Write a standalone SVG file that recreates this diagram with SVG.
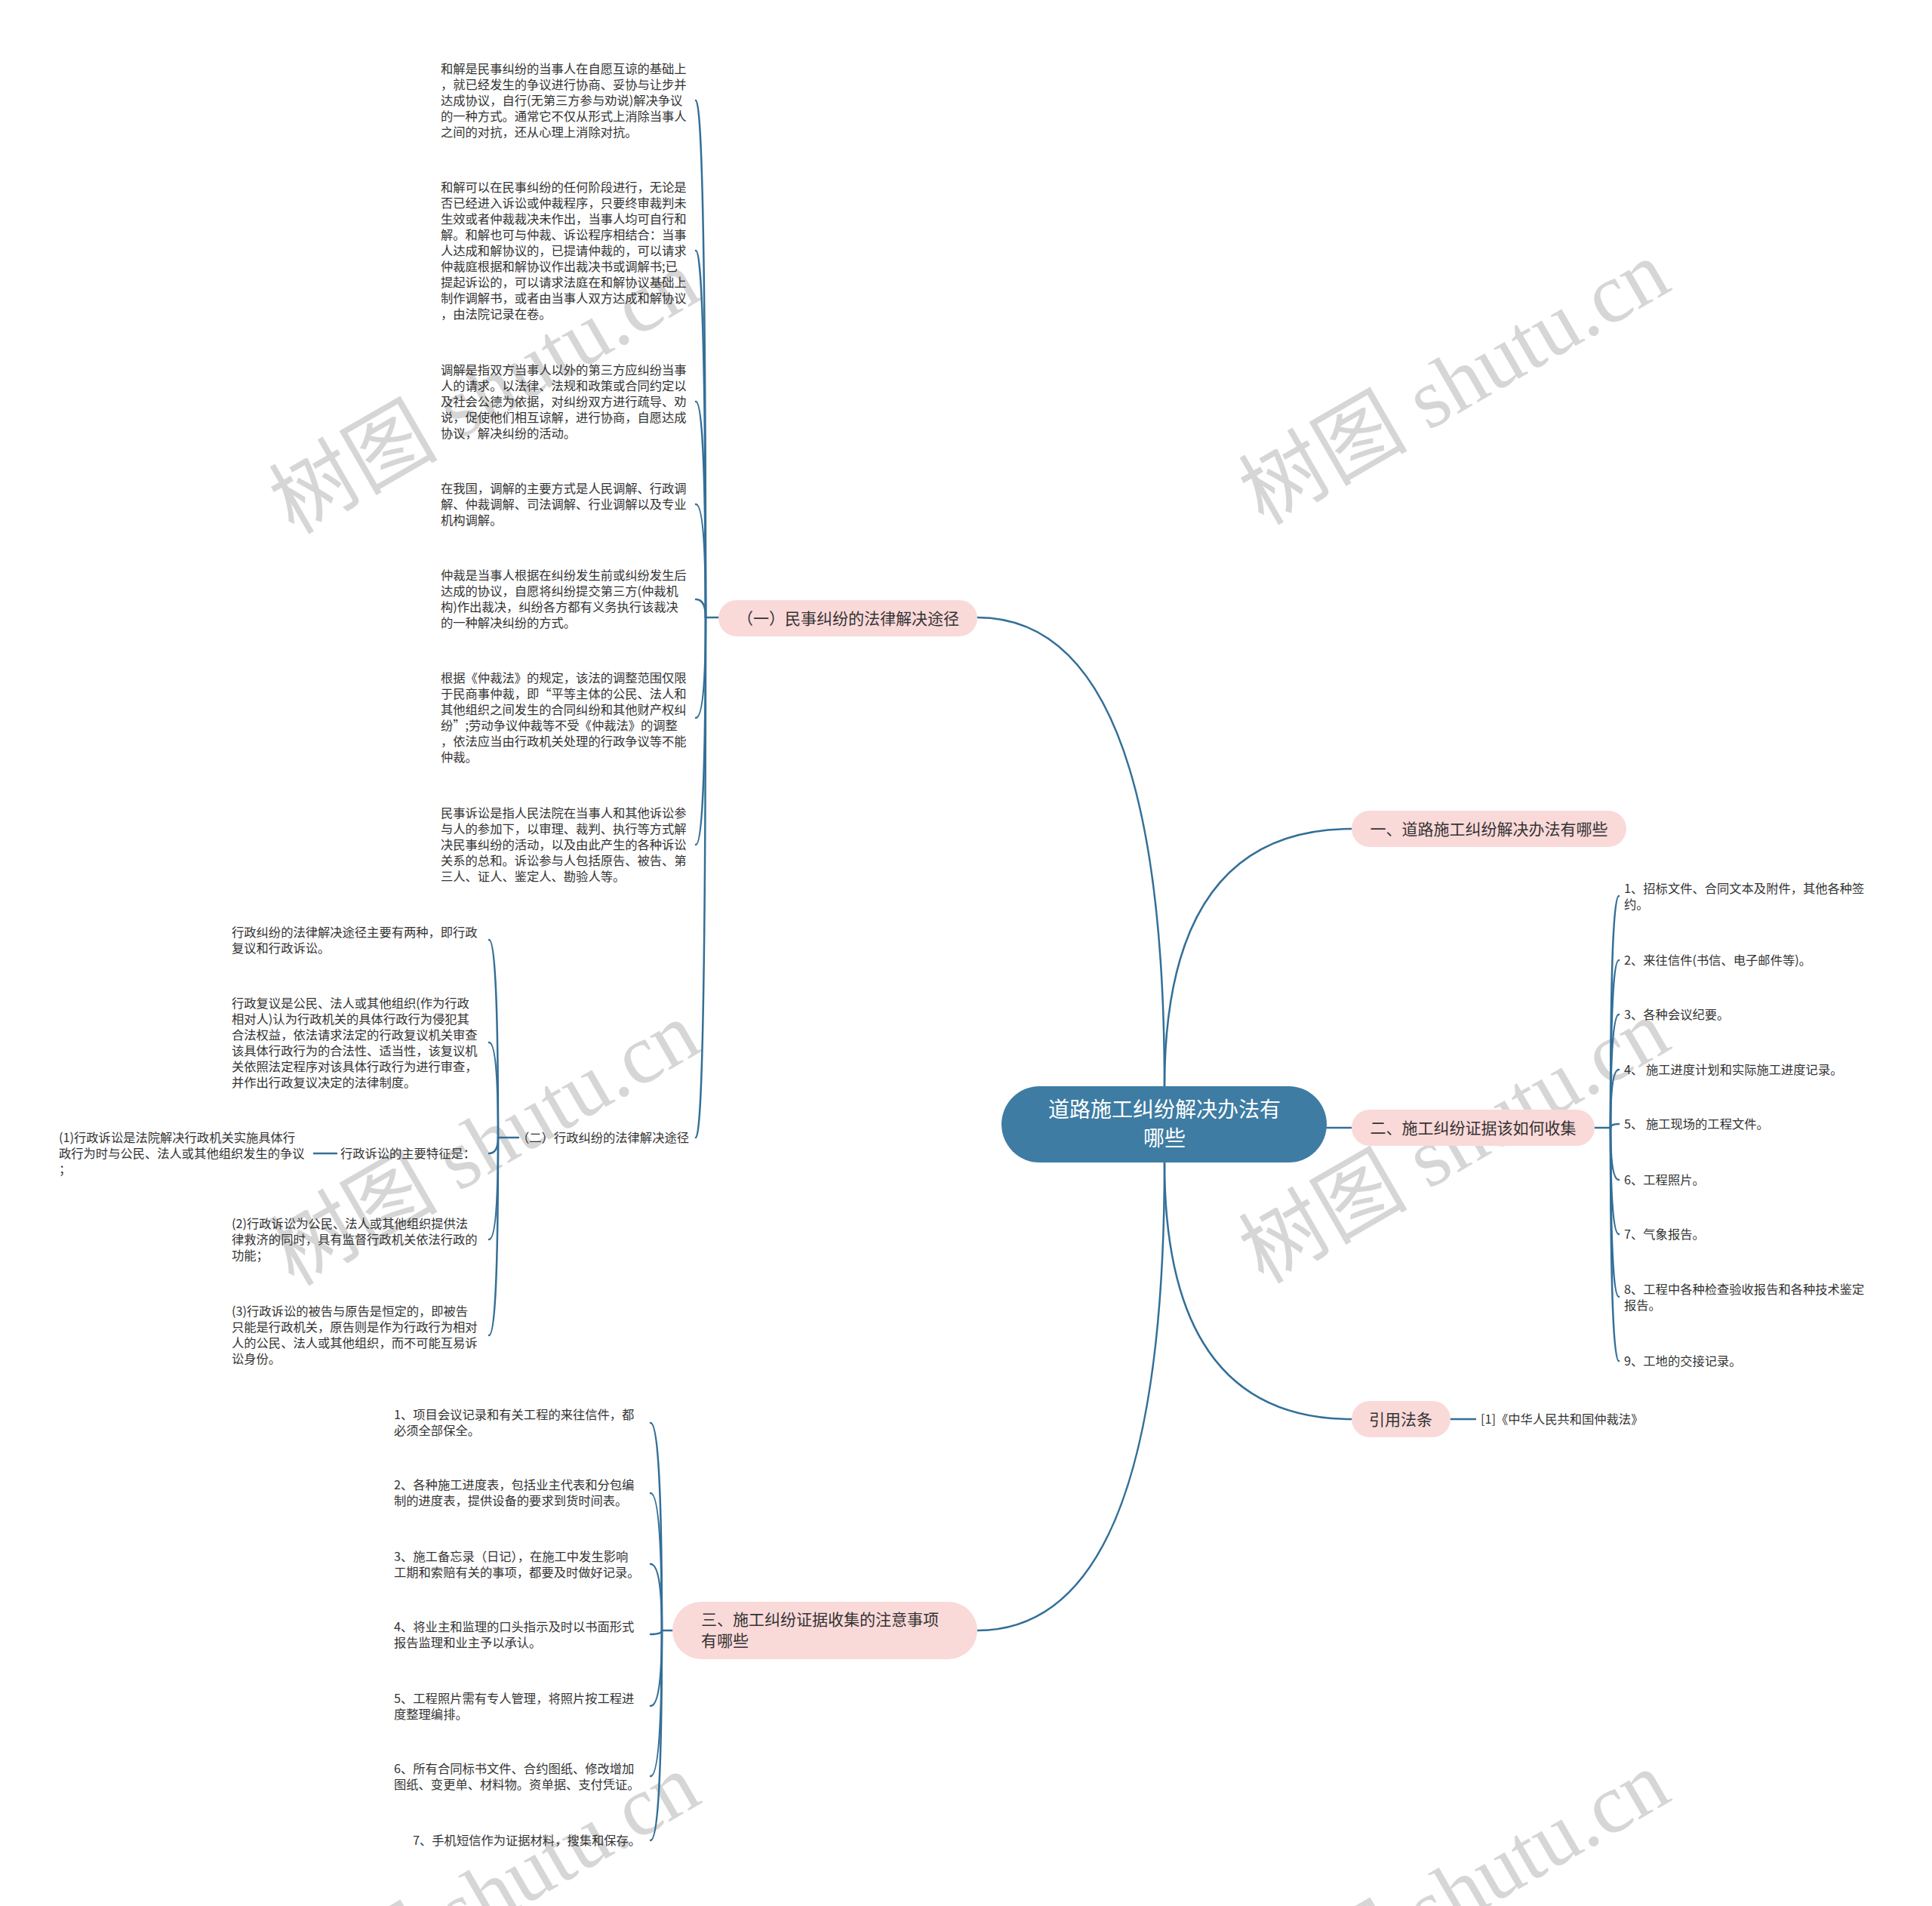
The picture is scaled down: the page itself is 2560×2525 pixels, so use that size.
<svg xmlns="http://www.w3.org/2000/svg" width="2560" height="2525" viewBox="0 0 2560 2525">
<style>
.wm{font-family:"Liberation Serif","Noto Sans CJK SC",serif;font-size:112px;fill:#d6d6d6;text-anchor:middle}
.t{font-family:"Noto Sans CJK SC","Noto Sans",sans-serif;font-size:16.3px;fill:#333}
.b{font-family:"Noto Sans CJK SC","Noto Sans",sans-serif;font-size:21px;fill:#333}
.c{font-family:"Noto Sans CJK SC","Noto Sans",sans-serif;font-size:28px;fill:#fff;text-anchor:middle}
.pk{fill:#fad9d9}
.ln{fill:none;stroke:#336f98;stroke-width:2.5;stroke-linecap:round}
</style>
<rect width="2560" height="2525" fill="#fff"/>
<g id="watermarks">
<text class="wm" transform="translate(642,519) rotate(-30)" y="38">树图 shutu.cn</text>
<text class="wm" transform="translate(1927,507) rotate(-30)" y="38">树图 shutu.cn</text>
<text class="wm" transform="translate(642,1515) rotate(-30)" y="38">树图 shutu.cn</text>
<text class="wm" transform="translate(1927,1512) rotate(-30)" y="38">树图 shutu.cn</text>
<text class="wm" transform="translate(642,2511) rotate(-30)" y="38">树图 shutu.cn</text>
<text class="wm" transform="translate(1927,2508) rotate(-30)" y="38">树图 shutu.cn</text>
</g>
<g id="connectors">
<path class="ln" d="M1543 1440 Q1543 818 1295 818"/>
<path class="ln" d="M1543 1440 Q1543 1098 1791 1098"/>
<path class="ln" d="M1758 1494 L1791 1494"/>
<path class="ln" d="M1543 1540 Q1543 1880 1791 1880"/>
<path class="ln" d="M1543 1540 Q1543 2160 1295 2160"/>
<path class="ln" d="M1922 1880 L1955 1880"/>
<path class="ln" d="M952 818 L935 818"/>
<path class="ln" d="M935 818 Q935 133 922 133"/>
<path class="ln" d="M935 818 Q935 332 922 332"/>
<path class="ln" d="M935 818 Q935 532 922 532"/>
<path class="ln" d="M935 818 Q935 668 922 668"/>
<path class="ln" d="M935 818 Q935 794 922 794"/>
<path class="ln" d="M935 818 Q935 951 922 951"/>
<path class="ln" d="M935 818 Q935 1119 922 1119"/>
<path class="ln" d="M935 818 Q935 1507 922 1507"/>
<path class="ln" d="M687 1507 L660 1507"/>
<path class="ln" d="M660 1507 Q660 1245 648 1245"/>
<path class="ln" d="M660 1507 Q660 1381 648 1381"/>
<path class="ln" d="M660 1507 Q660 1528 648 1528"/>
<path class="ln" d="M660 1507 Q660 1642 648 1642"/>
<path class="ln" d="M660 1507 Q660 1769 648 1769"/>
<path class="ln" d="M446 1528 L416 1528"/>
<path class="ln" d="M2113 1494 L2134 1494"/>
<path class="ln" d="M2134 1494 Q2134 1187 2145 1187"/>
<path class="ln" d="M2134 1494 Q2134 1272 2145 1272"/>
<path class="ln" d="M2134 1494 Q2134 1344 2145 1344"/>
<path class="ln" d="M2134 1494 Q2134 1417 2145 1417"/>
<path class="ln" d="M2134 1494 Q2134 1489 2145 1489"/>
<path class="ln" d="M2134 1494 Q2134 1563 2145 1563"/>
<path class="ln" d="M2134 1494 Q2134 1635 2145 1635"/>
<path class="ln" d="M2134 1494 Q2134 1718 2145 1718"/>
<path class="ln" d="M2134 1494 Q2134 1803 2145 1803"/>
<path class="ln" d="M891 2160 L877 2160"/>
<path class="ln" d="M877 2160 Q877 1885 862 1885"/>
<path class="ln" d="M877 2160 Q877 1978 862 1978"/>
<path class="ln" d="M877 2160 Q877 2072 862 2072"/>
<path class="ln" d="M877 2160 Q877 2165 862 2165"/>
<path class="ln" d="M877 2160 Q877 2260 862 2260"/>
<path class="ln" d="M877 2160 Q877 2353 862 2353"/>
<path class="ln" d="M877 2160 Q877 2438 862 2438"/>
</g>
<g id="center">
<rect x="1327" y="1439" width="431" height="101" rx="50.5" fill="#3e7ca3"/>
<text class="c" x="1543" y="1480">道路施工纠纷解决办法有</text>
<text class="c" x="1543" y="1518">哪些</text>
</g>
<g id="n-civil">
<rect class="pk" x="952" y="795" width="343" height="48" rx="24"/>
<text class="b" x="1124" y="827" text-anchor="middle">（一）民事纠纷的法律解决途径</text>
</g>
<g id="n-one">
<rect class="pk" x="1791" y="1074" width="364" height="48" rx="24"/>
<text class="b" x="1973" y="1106" text-anchor="middle">一、道路施工纠纷解决办法有哪些</text>
</g>
<g id="n-two">
<rect class="pk" x="1791" y="1470" width="322" height="48" rx="24"/>
<text class="b" x="1952" y="1502" text-anchor="middle">二、施工纠纷证据该如何收集</text>
</g>
<g id="n-cite">
<rect class="pk" x="1791" y="1856" width="131" height="48" rx="24"/>
<text class="b" x="1856" y="1888" text-anchor="middle">引用法条</text>
</g>
<g id="n-cite-1">
<text class="t" x="1962" y="1886">[1]《中华人民共和国仲裁法》</text>
</g>
<g id="n-three">
<rect class="pk" x="891" y="2122" width="404" height="76" rx="38"/>
<text class="b" x="929" y="2153">三、施工纠纷证据收集的注意事项</text>
<text class="b" x="929" y="2181">有哪些</text>
</g>
<g id="civil-a">
<text class="t" x="584" y="97">和解是民事纠纷的当事人在自愿互谅的基础上<tspan x="584" dy="21">，就已经发生的争议进行协商、妥协与让步并</tspan><tspan x="584" dy="21">达成协议，自行(无第三方参与劝说)解决争议</tspan><tspan x="584" dy="21">的一种方式。通常它不仅从形式上消除当事人</tspan><tspan x="584" dy="21">之间的对抗，还从心理上消除对抗。</tspan></text>
</g>
<g id="civil-b">
<text class="t" x="584" y="254">和解可以在民事纠纷的任何阶段进行，无论是<tspan x="584" dy="21">否已经进入诉讼或仲裁程序，只要终审裁判未</tspan><tspan x="584" dy="21">生效或者仲裁裁决未作出，当事人均可自行和</tspan><tspan x="584" dy="21">解。和解也可与仲裁、诉讼程序相结合：当事</tspan><tspan x="584" dy="21">人达成和解协议的，已提请仲裁的，可以请求</tspan><tspan x="584" dy="21">仲裁庭根据和解协议作出裁决书或调解书;已</tspan><tspan x="584" dy="21">提起诉讼的，可以请求法庭在和解协议基础上</tspan><tspan x="584" dy="21">制作调解书，或者由当事人双方达成和解协议</tspan><tspan x="584" dy="21">，由法院记录在卷。</tspan></text>
</g>
<g id="civil-c">
<text class="t" x="584" y="496">调解是指双方当事人以外的第三方应纠纷当事<tspan x="584" dy="21">人的请求。以法律、法规和政策或合同约定以</tspan><tspan x="584" dy="21">及社会公德为依据，对纠纷双方进行疏导、劝</tspan><tspan x="584" dy="21">说，促使他们相互谅解，进行协商，自愿达成</tspan><tspan x="584" dy="21">协议，解决纠纷的活动。</tspan></text>
</g>
<g id="civil-d">
<text class="t" x="584" y="653">在我国，调解的主要方式是人民调解、行政调<tspan x="584" dy="21">解、仲裁调解、司法调解、行业调解以及专业</tspan><tspan x="584" dy="21">机构调解。</tspan></text>
</g>
<g id="civil-e">
<text class="t" x="584" y="768">仲裁是当事人根据在纠纷发生前或纠纷发生后<tspan x="584" dy="21">达成的协议，自愿将纠纷提交第三方(仲裁机</tspan><tspan x="584" dy="21">构)作出裁决，纠纷各方都有义务执行该裁决</tspan><tspan x="584" dy="21">的一种解决纠纷的方式。</tspan></text>
</g>
<g id="civil-f">
<text class="t" x="584" y="904">根据《仲裁法》的规定，该法的调整范围仅限<tspan x="584" dy="21">于民商事仲裁，即“平等主体的公民、法人和</tspan><tspan x="584" dy="21">其他组织之间发生的合同纠纷和其他财产权纠</tspan><tspan x="584" dy="21">纷”;劳动争议仲裁等不受《仲裁法》的调整</tspan><tspan x="584" dy="21">，依法应当由行政机关处理的行政争议等不能</tspan><tspan x="584" dy="21">仲裁。</tspan></text>
</g>
<g id="civil-g">
<text class="t" x="584" y="1083">民事诉讼是指人民法院在当事人和其他诉讼参<tspan x="584" dy="21">与人的参加下，以审理、裁判、执行等方式解</tspan><tspan x="584" dy="21">决民事纠纷的活动，以及由此产生的各种诉讼</tspan><tspan x="584" dy="21">关系的总和。诉讼参与人包括原告、被告、第</tspan><tspan x="584" dy="21">三人、证人、鉴定人、勘验人等。</tspan></text>
</g>
<g id="admin">
<text class="t" x="913" y="1513" text-anchor="end">（二）行政纠纷的法律解决途径</text>
</g>
<g id="admin-a">
<text class="t" x="307" y="1241">行政纠纷的法律解决途径主要有两种，即行政<tspan x="307" dy="21">复议和行政诉讼。</tspan></text>
</g>
<g id="admin-b">
<text class="t" x="307" y="1335">行政复议是公民、法人或其他组织(作为行政<tspan x="307" dy="21">相对人)认为行政机关的具体行政行为侵犯其</tspan><tspan x="307" dy="21">合法权益，依法请求法定的行政复议机关审查</tspan><tspan x="307" dy="21">该具体行政行为的合法性、适当性，该复议机</tspan><tspan x="307" dy="21">关依照法定程序对该具体行政行为进行审查，</tspan><tspan x="307" dy="21">并作出行政复议决定的法律制度。</tspan></text>
</g>
<g id="admin-c">
<text class="t" x="630" y="1534" text-anchor="end">行政诉讼的主要特征是：</text>
</g>
<g id="admin-c1">
<text class="t" x="78" y="1513">(1)行政诉讼是法院解决行政机关实施具体行<tspan x="78" dy="21">政行为时与公民、法人或其他组织发生的争议</tspan><tspan x="78" dy="21">；</tspan></text>
</g>
<g id="admin-d">
<text class="t" x="307" y="1627">(2)行政诉讼为公民、法人或其他组织提供法<tspan x="307" dy="21">律救济的同时，具有监督行政机关依法行政的</tspan><tspan x="307" dy="21">功能；</tspan></text>
</g>
<g id="admin-e">
<text class="t" x="307" y="1743">(3)行政诉讼的被告与原告是恒定的，即被告<tspan x="307" dy="21">只能是行政机关，原告则是作为行政行为相对</tspan><tspan x="307" dy="21">人的公民、法人或其他组织，而不可能互易诉</tspan><tspan x="307" dy="21">讼身份。</tspan></text>
</g>
<g id="two-1"><text class="t" x="2152" y="1183">1、招标文件、合同文本及附件，其他各种签<tspan x="2152" dy="21">约。</tspan></text></g>
<g id="two-2"><text class="t" x="2152" y="1278">2、来往信件(书信、电子邮件等)。</text></g>
<g id="two-3"><text class="t" x="2152" y="1350">3、各种会议纪要。</text></g>
<g id="two-4"><text class="t" x="2152" y="1423">4、 施工进度计划和实际施工进度记录。</text></g>
<g id="two-5"><text class="t" x="2152" y="1495">5、 施工现场的工程文件。</text></g>
<g id="two-6"><text class="t" x="2152" y="1569">6、工程照片。</text></g>
<g id="two-7"><text class="t" x="2152" y="1641">7、气象报告。</text></g>
<g id="two-8"><text class="t" x="2152" y="1714">8、工程中各种检查验收报告和各种技术鉴定<tspan x="2152" dy="21">报告。</tspan></text></g>
<g id="two-9"><text class="t" x="2152" y="1809">9、工地的交接记录。</text></g>
<g id="three-1"><text class="t" x="522" y="1880">1、项目会议记录和有关工程的来往信件，都<tspan x="522" dy="21">必须全部保全。</tspan></text></g>
<g id="three-2"><text class="t" x="522" y="1973">2、各种施工进度表，包括业主代表和分包编<tspan x="522" dy="21">制的进度表，提供设备的要求到货时间表。</tspan></text></g>
<g id="three-3"><text class="t" x="522" y="2068">3、施工备忘录（日记），在施工中发生影响<tspan x="522" dy="21">工期和索赔有关的事项，都要及时做好记录。</tspan></text></g>
<g id="three-4"><text class="t" x="522" y="2161">4、将业主和监理的口头指示及时以书面形式<tspan x="522" dy="21">报告监理和业主予以承认。</tspan></text></g>
<g id="three-5"><text class="t" x="522" y="2256">5、工程照片需有专人管理，将照片按工程进<tspan x="522" dy="21">度整理编排。</tspan></text></g>
<g id="three-6"><text class="t" x="522" y="2349">6、所有合同标书文件、合约图纸、修改增加<tspan x="522" dy="21">图纸、变更单、材料物。资单据、支付凭证。</tspan></text></g>
<g id="three-7"><text class="t" x="547" y="2444">7、手机短信作为证据材料，搜集和保存。</text></g>
</svg>
